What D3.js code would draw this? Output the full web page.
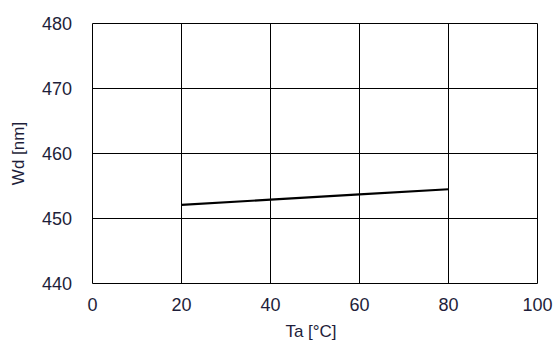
<!DOCTYPE html>
<html>
<head>
<meta charset="utf-8">
<script src="https://cdn.jsdelivr.net/npm/d3@7"></script>
<style>
  html, body { margin: 0; padding: 0; background: #fff; }
  svg { display: block; }
  text { font-family: "Liberation Sans", Arial, sans-serif; fill: #1e1e3a; }
</style>
</head>
<body>
<svg id="chart" width="555" height="343"></svg>
<script>
const xTicks = [0, 20, 40, 60, 80, 100];
const yTicks = [440, 450, 460, 470, 480];
const temperature = [20, 40, 60, 80];
const wavelength = [452.1, 452.9, 453.7, 454.5];
const xTitle = "Ta [°C]";
const yTitle = "Wd [nm]";

const svg = d3.select("#chart");
const x = d3.scaleLinear().domain([0, 100]).range([92.5, 537.5]);
const y = d3.scaleLinear().domain([440, 480]).range([283.5, 23.5]);

// grid
svg.append("g").selectAll("line.v").data(xTicks).join("line")
  .attr("x1", d => x(d)).attr("x2", d => x(d))
  .attr("y1", y(480)).attr("y2", y(440))
  .attr("stroke", "#000").attr("stroke-width", 1);
svg.append("g").selectAll("line.h").data(yTicks).join("line")
  .attr("x1", x(0)).attr("x2", x(100))
  .attr("y1", d => y(d)).attr("y2", d => y(d))
  .attr("stroke", "#000").attr("stroke-width", 1);

// tick labels
svg.append("g").selectAll("text").data(yTicks).join("text")
  .attr("x", 72).attr("y", d => y(d)).attr("dy", "0.35em")
  .attr("text-anchor", "end").attr("font-size", 18)
  .text(d => d);
svg.append("g").selectAll("text").data(xTicks).join("text")
  .attr("x", d => x(d)).attr("y", 311)
  .attr("text-anchor", "middle").attr("font-size", 18)
  .text(d => d);

// titles
svg.append("text").attr("x", (x(0) + x(100)) / 2 - 4).attr("y", 337)
  .attr("text-anchor", "middle").attr("font-size", 17).text(xTitle);
svg.append("text")
  .attr("transform", `translate(24, ${(y(440) + y(480)) / 2}) rotate(-90)`)
  .attr("text-anchor", "middle").attr("font-size", 17).text(yTitle);

// data line
const line = d3.line().x((d, i) => x(temperature[i])).y(d => y(d));
svg.append("path").datum(wavelength)
  .attr("d", line).attr("fill", "none")
  .attr("stroke", "#000").attr("stroke-width", 2.2);
</script>
</body>
</html>
